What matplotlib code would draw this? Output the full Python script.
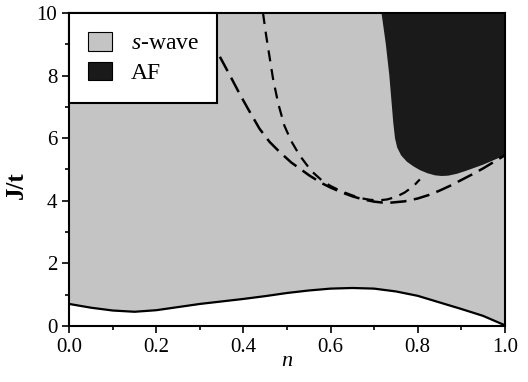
import numpy as np
import matplotlib
matplotlib.use("Agg")
import matplotlib.pyplot as plt
from matplotlib.patches import Patch

# Lower phase boundary (solid)
n_low = [0.0, 0.05, 0.10, 0.15, 0.20, 0.25, 0.30, 0.35, 0.40, 0.45, 0.50, 0.55,
         0.60, 0.65, 0.70, 0.75, 0.80, 0.85, 0.90, 0.95, 1.0]
J_low = [0.70, 0.58, 0.49, 0.45, 0.50, 0.60, 0.70, 0.78, 0.86, 0.95, 1.05, 1.13,
         1.19, 1.21, 1.19, 1.10, 0.96, 0.75, 0.54, 0.32, 0.02]

# AF region boundary
n_af = [0.717, 0.722, 0.727, 0.731, 0.735, 0.738, 0.741, 0.744, 0.748, 0.753, 0.762,
        0.775, 0.79, 0.805, 0.822, 0.84, 0.855, 0.87, 0.89, 0.91, 0.93, 0.95, 0.97,
        0.985, 1.0]
J_af = [10.0, 9.5, 9.0, 8.5, 8.0, 7.5, 7.0, 6.5, 6.0, 5.7, 5.45,
        5.25, 5.1, 4.98, 4.88, 4.81, 4.79, 4.8, 4.86, 4.95, 5.05, 5.15, 5.27,
        5.36, 5.45]

# Dashed curve A (long dashes)
n_a = [0.346, 0.37, 0.39, 0.41, 0.437, 0.46, 0.483, 0.51, 0.552, 0.58, 0.60, 0.625,
       0.65, 0.675, 0.70, 0.72, 0.74, 0.77, 0.80, 0.825, 0.85, 0.875, 0.90, 0.925,
       0.95, 0.975, 1.0]
J_a = [8.6, 7.98, 7.45, 6.95, 6.3, 5.88, 5.56, 5.22, 4.8, 4.56, 4.42, 4.27,
       4.14, 4.04, 3.97, 3.94, 3.94, 3.98, 4.07, 4.18, 4.32, 4.48, 4.66, 4.84,
       5.03, 5.24, 5.45]

# Dashed curve B (shorter dashes)
n_b = [0.445, 0.452, 0.46, 0.468, 0.48, 0.494, 0.51, 0.529, 0.556, 0.58, 0.60, 0.625,
       0.65, 0.67, 0.69, 0.71, 0.73, 0.75, 0.77, 0.79, 0.805]
J_b = [10.0, 9.3, 8.6, 7.9, 7.1, 6.4, 5.9, 5.45, 4.95, 4.65, 4.47, 4.3,
       4.17, 4.08, 4.03, 4.01, 4.04, 4.12, 4.26, 4.46, 4.68]

x_ticks = [0.0, 0.2, 0.4, 0.6, 0.8, 1.0]
y_ticks = [0, 2, 4, 6, 8, 10]
legend_labels = ["$s$-wave", "AF"]

c_s = "#c4c4c4"
c_af = "#1a1a1a"

plt.rcParams['font.family'] = ['Liberation Serif', 'DejaVu Serif']
plt.rcParams['mathtext.fontset'] = 'custom'
plt.rcParams['mathtext.it'] = 'Liberation Serif:italic'
plt.rcParams['mathtext.rm'] = 'Liberation Serif'

fig = plt.figure(figsize=(5.28, 3.82), dpi=100)
ax = fig.add_axes([0.131, 0.147, 0.825, 0.819])

ax.fill_between(n_low, J_low, 10, color=c_s, lw=0, zorder=1)
ax.fill(n_af + [1.0], J_af + [10.0], color=c_af, lw=0, zorder=2)

ax.plot(n_low, J_low, color="black", lw=1.6, zorder=3)
ax.plot(n_a, J_a, color="black", lw=1.8, ls=(0, (6.5, 3)), zorder=3)
ax.plot(n_b, J_b, color="black", lw=1.6, ls=(0, (5, 3.5)), zorder=3)

ax.set_xlim(0, 1)
ax.set_ylim(0, 10)
ax.set_xticks(x_ticks)
ax.set_xticklabels([f"{v:.1f}" for v in x_ticks])
ax.set_yticks(y_ticks)
ax.set_xticks(np.arange(0, 1.01, 0.1), minor=True)
ax.set_yticks(np.arange(0, 10.1, 1), minor=True)
ax.tick_params(which='both', direction='out', top=False, right=False, labelsize=15, width=1.2)
ax.tick_params(which='major', length=5)
ax.tick_params(which='minor', length=3)
for s in ax.spines.values():
    s.set_linewidth(1.5)

ax.set_xlabel("$n$", fontsize=16, labelpad=-3)
ax.set_ylabel("J/t", fontsize=18, fontweight='bold', labelpad=4)
ax.yaxis.set_label_coords(-0.095, 0.45)

handles = [Patch(facecolor=c_s, edgecolor='black', lw=0.8),
           Patch(facecolor=c_af, edgecolor='black', lw=0.8)]
leg = ax.legend(handles, legend_labels, loc='upper left', fontsize=17,
                frameon=True, fancybox=False, borderaxespad=0.0,
                handlelength=1.0, handleheight=0.85, borderpad=0.8,
                labelspacing=0.3, handletextpad=0.8)
leg.get_frame().set_edgecolor('black')
leg.get_frame().set_linewidth(1.5)
leg.get_frame().set_alpha(1.0)

fig.savefig("out.png", dpi=100)
